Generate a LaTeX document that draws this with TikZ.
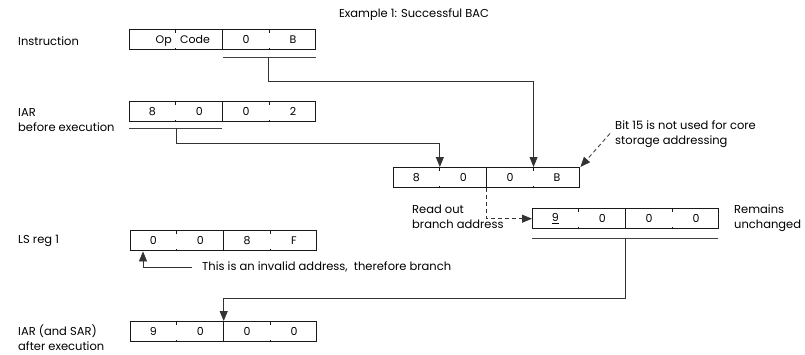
\documentclass[tikz,border=0pt]{standalone}
\usepackage{fontspec}
\setmainfont{Poppins}
\usetikzlibrary{calc,arrows.meta}
\tikzset{
  regbox/.style={draw=black!90, line width=1.4pt, minimum width=186pt, minimum height=20pt, inner sep=0pt},
  divline/.style={draw=black!90, line width=1.1pt},
  tickline/.style={draw=black!90, line width=1.1pt},
  field/.style={inner sep=0pt, font=\fontsize{11}{13}\selectfont},
  lbl/.style={inner sep=0pt, align=left, anchor=west, font=\fontsize{11.5}{15}\selectfont},
  uline/.style={draw=black!75, line width=0.8pt},
  conn/.style={draw=black!80, line width=0.8pt},
  tip/.style={-{Triangle[length=10pt,width=8pt]}},
  dashconn/.style={conn, dash pattern=on 4pt off 3pt},
}
\newcommand\regdraw[7]{%
  \node[regbox, anchor=north west] (#1) at (#2,#3) {};
  \draw[divline] (#1.north) -- (#1.south);
  \foreach \f in {0.25,0.75} {
    \draw[tickline] ($(#1.north west)!\f!(#1.north east)$) -- ++(0,3.5);
    \draw[tickline] ($(#1.south west)!\f!(#1.south east)$) -- ++(0,-2.5);
  }
  \node[field] (#1-1) at ($(#1.west)!0.125!(#1.east)$) {#4};
  \node[field] (#1-2) at ($(#1.west)!0.375!(#1.east)$) {#5};
  \node[field] (#1-3) at ($(#1.west)!0.625!(#1.east)$) {#6};
  \node[field] (#1-4) at ($(#1.west)!0.875!(#1.east)$) {#7};
}
\begin{document}
\begin{tikzpicture}[x=1pt,y=-1pt]
\useasboundingbox[fill=white] (0,0) rectangle (805,354);

% title
\node[lbl, anchor=center] (title) at (414,15) {Example 1: Successful BAC};

% left labels
\node[lbl] (linstr) at (18,41) {Instruction};
\node[lbl] (liar) at (18,120.5) {IAR\\before execution};
\node[lbl] (lls) at (18,241) {LS reg 1};
\node[lbl] (liaa) at (18,337.5) {IAR (and SAR)\\after execution};

% registers
\regdraw{ir}{129}{29}{}{}{0}{B}
\node[field, anchor=base east] (op) at (172,43) {Op};
\node[field, anchor=base west] (code) at (180,43) {Code};
\regdraw{iar}{129}{101}{8}{0}{0}{2}
\regdraw{mb}{393}{167}{8}{0}{0}{B}
\regdraw{b2}{532}{208}{\underline{9}}{0}{0}{0}
\regdraw{ls}{130}{230}{0}{0}{8}{F}
\regdraw{ia}{130}{321}{9}{0}{0}{0}

% texts
\node[lbl] (bit) at (615,134.5) {Bit 15 is not used for core\\storage addressing};
\node[lbl] (rd) at (412,216.5) {Read out\\branch address};
\node[lbl] (rem) at (734,218) {Remains\\unchanged};
\node[lbl] (inv) at (202,267) {This is an invalid address, \ therefore branch};

% underlines
\coordinate (u1a) at (223,57); \coordinate (u1b) at (316,57); \coordinate (u1s) at (268,57);
\draw[uline] (u1a) -- (u1b);
\coordinate (u2a) at (129,128); \coordinate (u2b) at (222,128); \coordinate (u2s) at (176,128);
\draw[uline] (u2a) -- (u2b);
\coordinate (u3a) at (532,238); \coordinate (u3b) at (718,238); \coordinate (u3s) at (625,238);
\draw[uline] (u3a) -- (u3b);

% targets
\coordinate (mbt1) at ($(mb.north west)!0.25!(mb.north east)$);
\coordinate (mbt2) at ($(mb.north west)!0.75!(mb.north east)$);
\coordinate (lsb) at ($(ls.south west)+(13,0)$);

% connectors
\draw[conn, tip] (u1s) -- ++(0,24) -| (mbt2);
\draw[conn, tip] (u2s) -- ++(0,15) -| (mbt1);
\draw[dashconn, tip] (mb.south) |- (b2.west);
\draw[conn, tip] (u3s) -- ++(0,60) -| (ia.north);
\draw[conn, tip] ($(inv.west)+(-10,0)$) -| (lsb);
\draw[dashconn, tip] ($(bit.west)+(-5,-1)$) -- (mb.north east);
\end{tikzpicture}
\end{document}
